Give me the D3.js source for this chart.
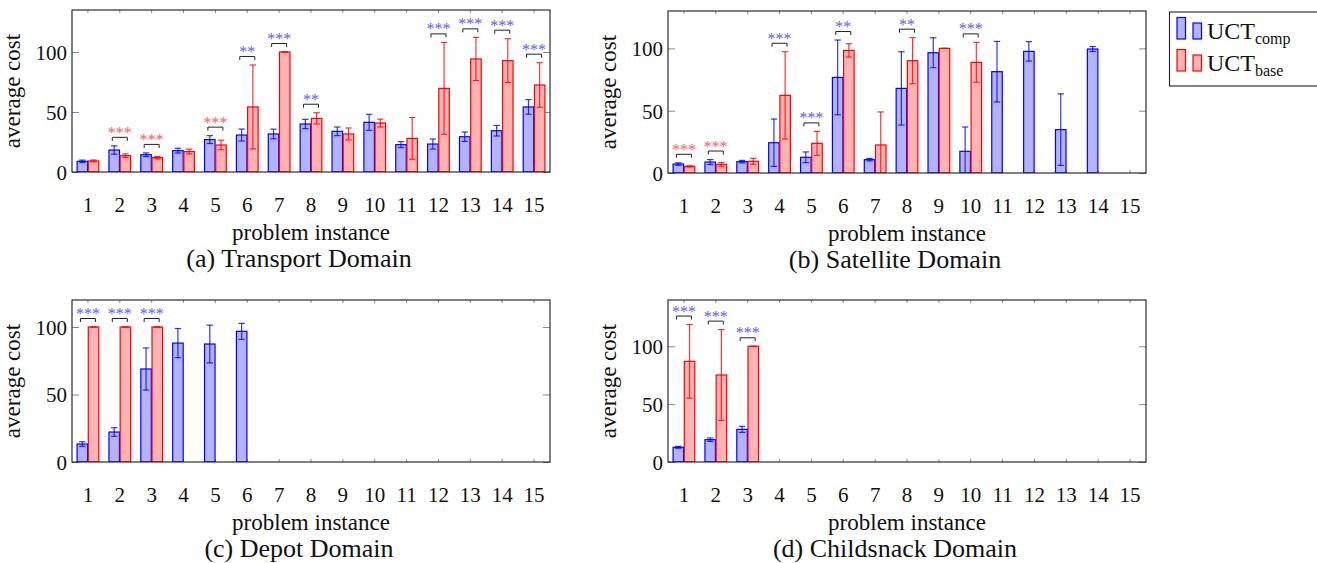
<!DOCTYPE html>
<html>
<head>
<meta charset="utf-8" />
<script src="https://cdn.jsdelivr.net/npm/d3@7"></script>
<style>
  body { margin: 0; background: #fff; }
  text { font-family: "Liberation Serif", "Times New Roman", serif; fill: #111; }
</style>
</head>
<body>
<div id="master"></div>
<script>
var width = 1317, height = 563;

// ---- data ----
var categories = [1, 2, 3, 4, 5, 6, 7, 8, 9, 10, 11, 12, 13, 14, 15];
var yTicks = [0, 50, 100];
var seriesNames = ["comp", "base"];

var transportComp    = [8.9, 18.3, 14.4, 17.8, 27, 30.8, 31.7, 40, 33.9, 41.4, 22.8, 23.3, 29.4, 34.4, 54.2];
var transportCompErr = [1, 3.5, 1.5, 2, 3.3, 5, 4, 3.9, 3.6, 6.7, 2.5, 4.2, 3.9, 4.4, 6.1];
var transportBase    = [9.2, 13.6, 12, 17, 22.5, 54.2, 100, 44.7, 31.7, 40.8, 28, 69.7, 94.2, 92.8, 72.5];
var transportBaseErr = [0.8, 1.5, 1, 2, 4, 35, 0, 4.7, 5, 3.3, 17.4, 38.3, 18, 18.3, 18.6];
var transportStars   = ["", "***", "***", "", "***", "**", "***", "**", "", "", "", "***", "***", "***", "***"];
var transportWinner  = ["", "base", "base", "", "base", "comp", "comp", "comp", "", "", "", "comp", "comp", "comp", "comp"];

var satelliteComp    = [7.2, 8.8, 9.1, 24.3, 12.6, 76.7, 10.7, 67.9, 96.5, 17.4, 81.3, 97.6, 34.8, 99.5, null];
var satelliteCompErr = [1, 2, 1, 19, 4.3, 30, 1, 29.4, 12, 19.5, 24.3, 7.8, 28.7, 2, null];
var satelliteBase    = [5.3, 7, 9.4, 62.3, 23.8, 98.4, 22.5, 90.1, 100, 88.8, null, null, null, null, null];
var satelliteBaseErr = [0.5, 1.5, 2.4, 35, 9.6, 5.3, 26.5, 18.5, 0, 16, null, null, null, null, null];
var satelliteStars   = ["***", "***", "", "***", "***", "**", "", "**", "", "***", "", "", "", "", ""];
var satelliteWinner  = ["base", "base", "", "comp", "comp", "comp", "", "comp", "", "comp", "", "", "", "", ""];

var depotComp    = [13.3, 22.2, 68.9, 88.1, 87.4, 96.8, null, null, null, null, null, null, null, null, null];
var depotCompErr = [1.7, 3.2, 15.6, 10.8, 14, 5.9, null, null, null, null, null, null, null, null, null];
var depotBase    = [100, 100, 100, null, null, null, null, null, null, null, null, null, null, null, null];
var depotBaseErr = [0, 0, 0, null, null, null, null, null, null, null, null, null, null, null, null];
var depotStars   = ["***", "***", "***", "", "", "", "", "", "", "", "", "", "", "", ""];
var depotWinner  = ["comp", "comp", "comp", "", "", "", "", "", "", "", "", "", "", "", ""];

var snackComp    = [12.7, 19.3, 28.2, null, null, null, null, null, null, null, null, null, null, null, null];
var snackCompErr = [0.8, 1.5, 2.6, null, null, null, null, null, null, null, null, null, null, null, null];
var snackBase    = [87, 75.2, 100, null, null, null, null, null, null, null, null, null, null, null, null];
var snackBaseErr = [31.8, 39.2, 0, null, null, null, null, null, null, null, null, null, null, null, null];
var snackStars   = ["***", "***", "***", "", "", "", "", "", "", "", "", "", "", "", ""];
var snackWinner  = ["comp", "comp", "comp", "", "", "", "", "", "", "", "", "", "", "", ""];

// ---- styles ----
var stroke = { comp: "#0000ff", base: "#ff0000" };
var fill   = { comp: "#b3b3ff", base: "#ffb3b3" };
var starColor = { comp: "#5c5cff", base: "#ff5c5c" };

var svg = d3.select("#master").append("svg")
  .attr("width", width)
  .attr("height", height);

var panelW = 478, panelH = 162;

var panels = [
  { caption: "(a) Transport Domain",  left: 72,  top: 10,  yMax: 135, comp: transportComp, compErr: transportCompErr, base: transportBase, baseErr: transportBaseErr, stars: transportStars, winner: transportWinner },
  { caption: "(b) Satellite Domain",  left: 668, top: 11,  yMax: 130, comp: satelliteComp, compErr: satelliteCompErr, base: satelliteBase, baseErr: satelliteBaseErr, stars: satelliteStars, winner: satelliteWinner },
  { caption: "(c) Depot Domain",      left: 72,  top: 300, yMax: 120, comp: depotComp, compErr: depotCompErr, base: depotBase, baseErr: depotBaseErr, stars: depotStars, winner: depotWinner },
  { caption: "(d) Childsnack Domain", left: 668, top: 300, yMax: 140, comp: snackComp, compErr: snackCompErr, base: snackBase, baseErr: snackBaseErr, stars: snackStars, winner: snackWinner }
];

panels.forEach(function(p, pi) { drawPanel(p, pi); });

function drawPanel(p, pi) {
  var g = svg.append("g").attr("transform", "translate(" + p.left + "," + p.top + ")");

  var x = d3.scaleBand().domain(categories).range([0, panelW]);
  var y = d3.scaleLinear().domain([0, p.yMax]).range([panelH, 0]);
  var barW = 10.5;
  var shift = { comp: -5.6, base: 5.6 };

  g.append("clipPath").attr("id", "clip" + pi)
    .append("rect").attr("width", panelW).attr("height", panelH);

  // ticks (inward, grey) with labels on left/bottom
  var yl = g.append("g").call(d3.axisLeft(y).tickValues(yTicks).tickSize(-7).tickPadding(5));
  var yr = g.append("g").attr("transform", "translate(" + panelW + ",0)")
    .call(d3.axisRight(y).tickValues(yTicks).tickSize(-7).tickFormat(""));
  var xb = g.append("g").attr("transform", "translate(0," + panelH + ")")
    .call(d3.axisBottom(x).tickSize(-3).tickPadding(25));
  var xt = g.append("g").call(d3.axisTop(x).tickSize(-3).tickFormat(""));
  [yl, yr, xb, xt].forEach(function(a) {
    a.select(".domain").remove();
    a.selectAll("line").attr("stroke", "#8a8a8a").attr("stroke-width", 1);
    a.selectAll("text").attr("font-family", null).attr("font-size", 21).attr("fill", "#111");
  });
  yl.selectAll("text").attr("dy", "0.35em");

  var plot = g.append("g").attr("clip-path", "url(#clip" + pi + ")");

  seriesNames.forEach(function(s) {
    var vals = p[s], errs = p[s + "Err"];
    var rows = categories.map(function(c, i) { return { c: c, v: vals[i], e: errs[i] }; })
      .filter(function(d) { return d.v != null; });

    plot.selectAll(".bar-" + s).data(rows).enter().append("rect")
      .attr("class", "bar-" + s)
      .attr("x", function(d) { return x(d.c) + x.bandwidth() / 2 + shift[s] - barW / 2; })
      .attr("y", function(d) { return y(d.v); })
      .attr("width", barW)
      .attr("height", function(d) { return y(0) - y(d.v); })
      .attr("fill", fill[s])
      .attr("stroke", stroke[s])
      .attr("stroke-width", 1.2);

    var eb = plot.selectAll(".err-" + s).data(rows).enter().append("g")
      .attr("class", "err-" + s)
      .attr("stroke", stroke[s])
      .attr("stroke-opacity", 0.8)
      .attr("stroke-width", 1.2);
    var cx = function(d) { return x(d.c) + x.bandwidth() / 2 + shift[s]; };
    eb.append("line")
      .attr("x1", cx).attr("x2", cx)
      .attr("y1", function(d) { return y(d.v - d.e); })
      .attr("y2", function(d) { return y(d.v + d.e); });
    eb.append("line")
      .attr("x1", function(d) { return cx(d) - 3.2; }).attr("x2", function(d) { return cx(d) + 3.2; })
      .attr("y1", function(d) { return y(d.v + d.e); }).attr("y2", function(d) { return y(d.v + d.e); });
    eb.append("line")
      .attr("x1", function(d) { return cx(d) - 3.2; }).attr("x2", function(d) { return cx(d) + 3.2; })
      .attr("y1", function(d) { return y(d.v - d.e); }).attr("y2", function(d) { return y(d.v - d.e); });
  });

  // significance brackets
  var sig = categories.map(function(c, i) {
    var top = Math.max((p.comp[i] || 0) + (p.compErr[i] || 0), (p.base[i] || 0) + (p.baseErr[i] || 0));
    return { c: c, top: top, stars: p.stars[i], winner: p.winner[i] };
  }).filter(function(d) { return d.stars; });

  var sg = g.selectAll(".sig").data(sig).enter().append("g").attr("class", "sig");
  sg.append("path")
    .attr("d", function(d) {
      var cx = x(d.c) + x.bandwidth() / 2, yb = y(d.top) - 8.5;
      return "M" + (cx - 7.5) + "," + (yb + 3.5) + "V" + yb + "H" + (cx + 7.5) + "V" + (yb + 3.5);
    })
    .attr("fill", "none").attr("stroke", "#222").attr("stroke-width", 1);
  sg.append("text")
    .attr("x", function(d) { return x(d.c) + x.bandwidth() / 2; })
    .attr("y", function(d) { return y(d.top) - 8.5 + 0.5; })
    .attr("text-anchor", "middle")
    .attr("font-size", 16)
    .style("fill", function(d) { return starColor[d.winner]; })
    .text(function(d) { return d.stars; });

  // frame
  g.append("rect").attr("width", panelW).attr("height", panelH)
    .attr("fill", "none").attr("stroke", "#1a1a1a").attr("stroke-width", 1.1);

  // labels
  g.append("text")
    .attr("transform", "translate(-52," + (panelH / 2) + ") rotate(-90)")
    .attr("text-anchor", "middle")
    .attr("font-size", 23)
    .text("average cost");
  g.append("text")
    .attr("x", panelW / 2).attr("y", panelH + 68)
    .attr("text-anchor", "middle")
    .attr("font-size", 23)
    .text("problem instance");
  g.append("text")
    .attr("x", panelW / 2 - 12).attr("y", panelH + 95)
    .attr("text-anchor", "middle")
    .attr("font-size", 26)
    .text(p.caption);
}

// legend
var lg = svg.append("g").attr("transform", "translate(1169,12)");
lg.append("rect").attr("x", 0.5).attr("y", 0).attr("width", 160).attr("height", 74)
  .attr("fill", "#fff").attr("stroke", "#222").attr("stroke-width", 1.1);
seriesNames.forEach(function(s, i) {
  var row = lg.append("g").attr("transform", "translate(0," + (i * 32) + ")");
  row.append("rect").attr("x", 8).attr("y", 5.5).attr("width", 8.5).attr("height", 21.5)
    .attr("fill", fill[s]).attr("stroke", stroke[s]).attr("stroke-width", 1.2);
  row.append("rect").attr("x", 24).attr("y", 11).attr("width", 8.5).attr("height", 16)
    .attr("fill", fill[s]).attr("stroke", stroke[s]).attr("stroke-width", 1.2);
  var t = row.append("text").attr("x", 38).attr("y", 26.5).attr("font-size", 24);
  t.append("tspan").text("UCT");
  t.append("tspan").attr("font-size", 16).attr("dy", 5).text(s);
});
</script>
</body>
</html>
